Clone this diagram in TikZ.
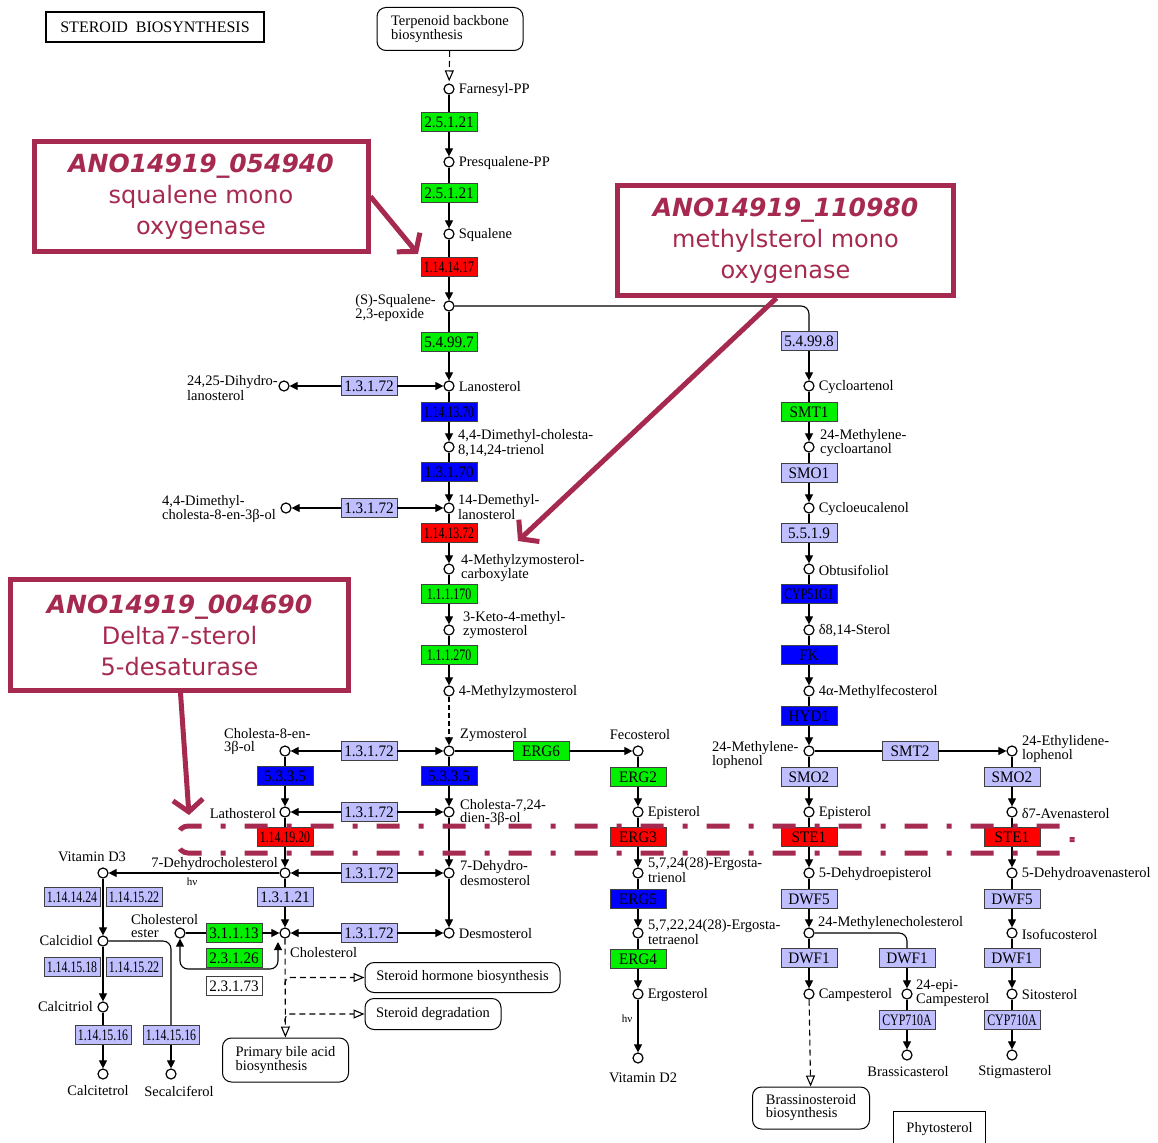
\documentclass[tikz,border=0pt]{standalone}
\usepackage{fontspec}
\setmainfont{Liberation Serif}
\newfontfamily\keggfont{Liberation Serif}
\newfontfamily\keggwide[FakeStretch=0.95]{Liberation Serif}
\newfontfamily\keggnarrow[FakeStretch=0.74]{Liberation Serif}
\newfontfamily\notefont{DejaVu Sans}
\usetikzlibrary{arrows.meta,positioning,calc}
\newcommand{\cpdfont}{\keggfont\fontsize{14.5}{13}\selectfont}
\newcommand{\ecfont}{\keggwide\fontsize{16}{14}\selectfont}
\newcommand{\ecnarrow}{\keggnarrow\fontsize{16}{14}\selectfont}
\newcommand{\titlefont}{\keggfont\fontsize{16}{16}\selectfont}
\newcommand{\callfont}{\notefont\fontsize{24}{31}\selectfont}
\newcommand{\callbold}{\fontsize{25}{31}\selectfont\bfseries\itshape}
\definecolor{cgreen}{HTML}{00F000}
\definecolor{cred}{HTML}{FF0000}
\definecolor{cblue}{HTML}{0000FF}
\definecolor{clav}{HTML}{BFBFFF}
\definecolor{ccall}{HTML}{A6294F}
\tikzset{
  cpd/.style={circle, draw, line width=1.2pt, fill=white, minimum size=10pt, inner sep=0pt},
  enz/.style={draw=black!75, line width=0.9pt, minimum width=56pt, minimum height=19pt, inner sep=0pt, font=\ecfont},
  eg/.style={enz, fill=cgreen},
  er/.style={enz, fill=cred},
  eb/.style={enz, fill=cblue},
  el/.style={enz, fill=clav},
  ew/.style={enz, fill=white},
  narrow/.style={font=\ecnarrow},
  egn/.style={eg, narrow},
  ern/.style={er, narrow},
  ebn/.style={eb, narrow},
  eln/.style={el, narrow},
  lbl/.style={font=\cpdfont, inner sep=1pt, align=left},
  hv/.style={font=\keggfont\fontsize{11}{11}\selectfont, inner sep=1pt},
  mapbox/.style={draw, line width=1pt, rounded corners=9pt, fill=white, font=\cpdfont, align=left, inner sep=0pt},
  ln/.style={line width=1.1pt},
  rxn/.style={ln, -{Triangle[length=8pt,width=8pt]}},
  maplink/.style={ln, dash pattern=on 6pt off 4pt, -{Triangle[open, length=11pt, width=9pt]}},
  callout/.style={draw=ccall, line width=5pt, fill=white, align=center, text=ccall, font=\callfont, inner sep=0pt},
  callarr/.style={draw=ccall, line width=5pt, -{Straight Barb[length=12pt, width=30pt]}},
  hiline/.style={draw=ccall, line width=5pt, rounded corners=10pt, dash pattern=on 23pt off 19pt on 5pt off 19pt, dash phase=44.5pt},
}
\begin{document}
\begin{tikzpicture}[x=1pt, y=-1pt]
\useasboundingbox (0,0) rectangle (1158,1142);
\fill[white] (0,0) rectangle (1158,1142);
\node[draw, line width=2.5pt, minimum width=218pt, minimum height=30pt, inner sep=0pt, font=\titlefont] (title) at (155,27) {STEROID\ \ BIOSYNTHESIS};
% compounds
\foreach \n/\x/\y in {farn/449/89, presq/449/162, squal/449/234, epox/449/306, lano/449/386, dihydlano/284/386,
  dmct/449/447, demlano/449/508, dmc8/286/508, mzc/449/569, keto/449/630, mzym/449/691, zym/449/751,
  fec/638/751, ch8/285/751, ch724/449/812, lath/285/812, dhdes/449/873, dhc/285/873, vitd3/103/873,
  chol/285/933, des/449/933, chest/180/933, calcidiol/103/941, calcitriol/103/1007, calcitetrol/103/1074,
  secal/171/1074, epist/638/812, ergtri/638/873, ergtet/638/933, ergost/638/994, vitd2/638/1058,
  cycloart/809/386, mcyc/809/447, cycloeu/809/508, obtus/809/569, d814/809/630, mfec/809/691,
  mlop/809/751, elop/1012/751, epi2/809/812, ave/1012/812, dhepi/809/873, dhave/1012/873,
  mchol/809/933, isofuc/1012/933, camp/809/994, epicamp/907/994, sito/1012/994, brass/907/1055, stigm/1012/1055}
  \node[cpd] (\n) at (\x,\y) {};
% enzymes
\foreach \n/\x/\y/\s/\t in {e1/449/122/eg/2.5.1.21, e2/449/193/eg/2.5.1.21, e3/449/267/ern/1.14.14.17,
  e4/449/342/eg/5.4.99.7, e5/369/386/el/1.3.1.72, e6/449/412/ebn/1.14.13.70, e7/449/472/eb/1.3.1.70,
  e8/369/508/el/1.3.1.72, e9/449/533/ern/1.14.13.72, e10/449/594/egn/1.1.1.170, e11/449/655/egn/1.1.1.270,
  e12/369/751/el/1.3.1.72, e13/541/751/eg/ERG6, e14/449/776/eb/5.3.3.5, e15/285/776/eb/5.3.3.5,
  e16/369/812/el/1.3.1.72, e17/285/837/ern/1.14.19.20, e18/369/873/el/1.3.1.72, e19/285/897/el/1.3.1.21,
  e20/369/933/el/1.3.1.72, e21/234/933/eg/3.1.1.13, e22/234/958/eg/2.3.1.26, e23/234/986/ew/2.3.1.73,
  e24/72/897/eln/1.14.14.24, e25/134/897/eln/1.14.15.22, e26/72/967/eln/1.14.15.18, e27/134/967/eln/1.14.15.22,
  e28/103/1035/eln/1.14.15.16, e29/171/1035/eln/1.14.15.16,
  e30/638/777/eg/ERG2, e31/638/837/er/ERG3, e32/638/899/eb/ERG5, e33/638/959/eg/ERG4,
  e34/809/341/el/5.4.99.8, e35/809/412/eg/SMT1, e36/809/473/el/SMO1, e37/809/533/el/5.5.1.9,
  e38/809/594/ebn/CYP51G1, e39/809/655/eb/FK, e40/809/716/eb/HYD1, e41/910/751/el/SMT2,
  e42/809/777/el/SMO2, e43/1012/777/el/SMO2, e44/809/837/er/STE1, e45/1012/837/er/STE1,
  e46/809/899/el/DWF5, e47/1012/899/el/DWF5, e48/809/958/el/DWF1, e49/907/958/el/DWF1, e50/1012/958/el/DWF1,
  e51/907/1020/eln/CYP710A, e52/1012/1020/eln/CYP710A}
  \node[\s] (\n) at (\x,\y) {\t};
% map links
\node[mapbox, minimum width=146pt, minimum height=43pt] (terp) at (450,29) {Terpenoid backbone\\biosynthesis};
\node[mapbox, minimum width=195pt, minimum height=30pt] (horm) at (462.5,977.5) {Steroid hormone biosynthesis};
\node[mapbox, minimum width=136pt, minimum height=31pt] (degr) at (433,1014) {Steroid degradation};
\node[mapbox, minimum width=126pt, minimum height=44pt] (bile) at (285.5,1060) {Primary bile acid\\biosynthesis};
\node[mapbox, minimum width=117pt, minimum height=42pt] (brsn) at (811,1108) {Brassinosteroid\\biosynthesis};
\node[draw, line width=1pt, minimum width=92pt, minimum height=36pt, inner sep=0pt, font=\cpdfont] (phyto) at (939.5,1129) {Phytosterol};
% reactions
\foreach \a/\e/\b in {farn/e1/presq, presq/e2/squal, squal/e3/epox, epox/e4/lano, lano/e6/dmct, dmct/e7/demlano,
  demlano/e9/mzc, mzc/e10/keto, keto/e11/mzym, zym/e14/ch724, ch8/e15/lath, lath/e17/dhc, dhc/e19/chol,
  fec/e30/epist, epist/e31/ergtri, ergtri/e32/ergtet, ergtet/e33/ergost, cycloart/e35/mcyc, mcyc/e36/cycloeu,
  cycloeu/e37/obtus, obtus/e38/d814, d814/e39/mfec, mfec/e40/mlop, mlop/e42/epi2, epi2/e44/dhepi,
  dhepi/e46/mchol, mchol/e48/camp, elop/e43/ave, ave/e45/dhave, dhave/e47/isofuc, isofuc/e50/sito,
  sito/e52/stigm, epicamp/e51/brass, calcitriol/e28/calcitetrol, zym/e13/fec, mlop/e41/elop, chest/e21/chol}
  {\draw[ln] (\a) -- (\e); \draw[rxn] (\e) -- (\b);}
\foreach \e/\l/\r in {e5/dihydlano/lano, e8/dmc8/demlano, e12/ch8/zym, e16/lath/ch724, e18/dhc/dhdes, e20/chol/des}
  {\draw[rxn] (\e) -- (\l); \draw[rxn] (\e) -- (\r);}
\foreach \a/\b in {ch724/dhdes, dhdes/des, vitd3/calcidiol, calcidiol/calcitriol, e34/cycloart, e49/epicamp,
  e29/secal, dhc/vitd3, ergost/vitd2}
  \draw[rxn] (\a) -- (\b);
\draw[rxn, dash pattern=on 5pt off 3pt] (mzym) -- (zym);
\draw[ln, rounded corners=8pt] (epox) -| (e34);
\draw[ln, rounded corners=8pt] (mchol) -| (e49);
\draw[ln, rounded corners=8pt] (calcidiol) -| (e29);
\coordinate (lpL) at (180,969);
\coordinate (lpR) at (278,969);
\coordinate (lpT) at (278,942);
\draw[ln, rounded corners=8pt, {Triangle[length=8pt,width=8pt]}-{Triangle[length=8pt,width=8pt]}] (chest) -- (lpL) -- (lpR) -- (lpT);
\draw[maplink, shorten >=2pt] (terp) -- (farn);
\draw[maplink] (chol) -- (bile);
\draw[maplink] (camp) -- (brsn);
\coordinate (hk1) at (285,985);
\coordinate (hk2) at (285,1022);
\draw[maplink, rounded corners=5pt] (hk1) |- (horm);
\draw[maplink, rounded corners=5pt] (hk2) |- (degr);
% compound labels
\foreach \n/\t in {farn/Farnesyl-PP, presq/Presqualene-PP, squal/Squalene, lano/Lanosterol, mzym/4-Methylzymosterol,
  des/Desmosterol, epist/Episterol, ergost/Ergosterol, cycloart/Cycloartenol, cycloeu/Cycloeucalenol,
  obtus/Obtusifoliol, d814/{δ8,14-Sterol}, mfec/4α-Methylfecosterol, epi2/Episterol, ave/δ7-Avenasterol,
  dhepi/5-Dehydroepisterol, dhave/5-Dehydroavenasterol, isofuc/Isofucosterol, camp/Campesterol, sito/Sitosterol}
  \node[lbl, anchor=west] (l-\n) at ([xshift=3pt, yshift=-1pt]\n.east) {\t};
\node[lbl, anchor=west] (l-dmct) at (457,443) {4,4-Dimethyl-cholesta-\\8,14,24-trienol};
\node[lbl, anchor=west] (l-demlano) at (457,507) {14-Demethyl-\\lanosterol};
\node[lbl, anchor=west] (l-mzc) at (460,568) {4-Methylzymosterol-\\carboxylate};
\node[lbl, anchor=west] (l-keto) at (462,625) {3-Keto-4-methyl-\\zymosterol};
\node[lbl, anchor=west] (l-ch724) at (459,813) {Cholesta-7,24-\\dien-3β-ol};
\node[lbl, anchor=west] (l-dhdes) at (459,873) {7-Dehydro-\\desmosterol};
\node[lbl, anchor=west] (l-ergtri) at (647,870) {5,7,24(28)-Ergosta-\\trienol};
\node[lbl, anchor=west] (l-ergtet) at (647,932) {5,7,22,24(28)-Ergosta-\\tetraenol};
\node[lbl, anchor=west] (l-mcyc) at (819,443) {24-Methylene-\\cycloartanol};
\node[lbl, anchor=west] (l-elop) at (1021,749) {24-Ethylidene-\\lophenol};
\node[lbl, anchor=west] (l-epicamp) at (915,993) {24-epi-\\Campesterol};
\node[lbl, anchor=west] (l-zym) at (459,735) {Zymosterol};
\node[lbl] (l-fec) at (640,735) {Fecosterol};
\node[lbl, anchor=west] (l-mchol) at (817,923) {24-Methylenecholesterol};
\node[lbl, anchor=west] (l-chol) at (289,953) {Cholesterol};
\node[lbl, anchor=east] (l-lath) at (277,814) {Lathosterol};
\node[lbl, anchor=east] (l-dhc) at (279,864) {7-Dehydrocholesterol};
\node[lbl] (l-vitd3) at (92,857) {Vitamin D3};
\node[lbl, anchor=east] (l-calcidiol) at (94,941) {Calcidiol};
\node[lbl, anchor=east] (l-calcitriol) at (94,1007) {Calcitriol};
\node[lbl] (l-calcitetrol) at (98,1091) {Calcitetrol};
\node[lbl] (l-secal) at (179,1091) {Secalciferol};
\node[lbl] (l-vitd2) at (643,1078) {Vitamin D2};
\node[lbl] (l-brass) at (908,1072) {Brassicasterol};
\node[lbl] (l-stigm) at (1015,1072) {Stigmasterol};
\node[lbl, anchor=east] (l-epox) at (437,308) {(S)-Squalene-\\2,3-epoxide};
\node[lbl, anchor=east] (l-dihydlano) at (279,388) {24,25-Dihydro-\\lanosterol};
\node[lbl, anchor=east] (l-dmc8) at (277,509) {4,4-Dimethyl-\\cholesta-8-en-3β-ol};
\node[lbl, anchor=west] (l-ch8) at (223,742) {Cholesta-8-en-\\3β-ol};
\node[lbl, anchor=west] (l-chest) at (130,926) {Cholesterol\\ester};
\node[lbl, anchor=west] (l-mlop) at (711,755) {24-Methylene-\\lophenol};
\node[hv] (hv1) at (192,882) {hν};
\node[hv] (hv2) at (627,1019) {hν};
% annotations
\node[callout, minimum width=334pt, minimum height=110pt] (c1) at (201,196.5) {{\callbold ANO14919\_054940}\\squalene mono\\oxygenase};
\node[callout, minimum width=336pt, minimum height=110pt] (c2) at (785.5,240.5) {{\callbold ANO14919\_110980}\\methylsterol mono\\oxygenase};
\node[callout, minimum width=338pt, minimum height=111pt] (c3) at (179.5,635) {{\callbold ANO14919\_004690}\\Delta7-sterol\\5-desaturase};
\coordinate (a2tip) at (518,541);
\coordinate (a3tip) at (189,815);
\draw[callarr, shorten >=4pt] (c1.east) -- (e3.north west);
\draw[callarr] ([xshift=-9pt]c2.south) -- (a2tip);
\draw[callarr] ([xshift=1pt]c3.south) -- (a3tip);
% highlighted row
\coordinate (frR) at (1072,839.5);
\coordinate (frL) at (178,839.5);
\draw[hiline] (frR) -- (1072,826) -- (178,826) -- (frL);
\draw[hiline] (frR) -- (1072,853) -- (178,853) -- (frL);
\end{tikzpicture}
\end{document}
